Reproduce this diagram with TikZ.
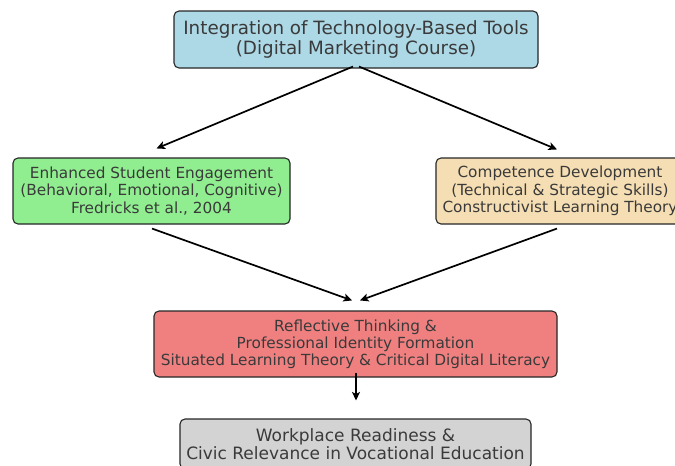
\documentclass[tikz,border=0pt]{standalone}
\usepackage{fontspec}
\setmainfont{DejaVu Sans}
\usetikzlibrary{arrows.meta}
\definecolor{ink}{HTML}{3A3A3A}
\definecolor{boxblue}{HTML}{ADD8E6}
\definecolor{boxgreen}{HTML}{90EE90}
\definecolor{boxwheat}{HTML}{F5DEB3}
\definecolor{boxcoral}{HTML}{F08080}
\definecolor{boxgray}{HTML}{D3D3D3}
\tikzset{
  stage/.style={draw=black!85, line width=1.1pt, rounded corners=5pt,
    align=center, text=ink, inner sep=0pt},
  arr/.style={draw=black, line width=1.7pt,
    -{Stealth[length=8.5pt,width=8pt,inset=2pt]}},
}
\begin{document}
\begin{tikzpicture}[x=1pt,y=-1pt]
\useasboundingbox (0,0) rectangle (675,466);

% boxes
\node[stage, fill=boxblue, minimum width=364pt, minimum height=57pt,
  font=\fontsize{18.3}{20}\selectfont] (top) at (356,39.5)
  {Integration of Technology-Based Tools\\(Digital Marketing Course)};

\node[stage, fill=boxgreen, minimum width=277pt, minimum height=66pt,
  font=\fontsize{15.3}{17.5}\selectfont] (eng) at (151.5,191)
  {Enhanced Student Engagement\\(Behavioral, Emotional, Cognitive)\\Fredricks et al., 2004};

\node[stage, fill=boxwheat, minimum width=248pt, minimum height=66pt,
  font=\fontsize{15.3}{17.5}\selectfont] (comp) at (560,191)
  {Competence Development\\(Technical \& Strategic Skills)\\Constructivist Learning Theory};

\node[stage, fill=boxcoral, minimum width=403pt, minimum height=66pt,
  font=\fontsize{15.3}{17}\selectfont] (refl) at (355.5,344)
  {Reflective Thinking \&\\Professional Identity Formation\\Situated Learning Theory \& Critical Digital Literacy};

\node[stage, fill=boxgray, minimum width=351pt, minimum height=50pt,
  font=\fontsize{17}{18.5}\selectfont] (work) at (355.5,444)
  {Workplace Readiness \&\\Civic Relevance in Vocational Education};

% connectors
\draw[arr] ([xshift=-3pt,yshift=2pt]top.south) -- ([xshift=5pt,yshift=9pt]eng.north);
\draw[arr] ([xshift=3pt,yshift=2pt]top.south) -- ([xshift=-3pt,yshift=8pt]comp.north);
\draw[arr] ([xshift=0.5pt,yshift=-4pt]eng.south) -- ([xshift=-3.5pt,yshift=10pt]refl.north);
\draw[arr] ([xshift=-3pt,yshift=-4pt]comp.south) -- ([xshift=4.5pt,yshift=10pt]refl.north);
\draw[arr] ([xshift=0.5pt,yshift=5pt]refl.south) -- ([xshift=0.5pt,yshift=18pt]work.north);
\end{tikzpicture}
\end{document}
